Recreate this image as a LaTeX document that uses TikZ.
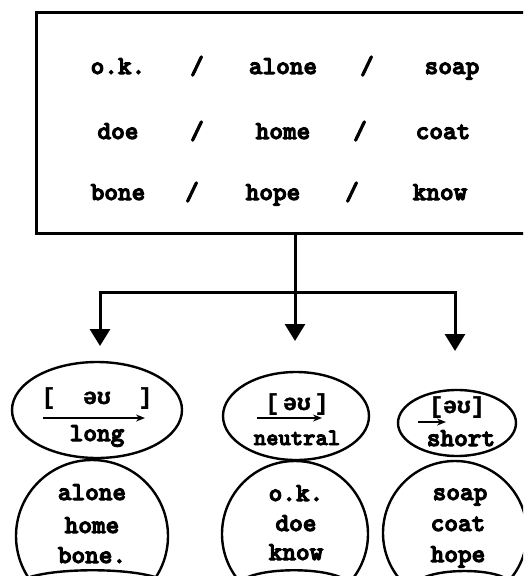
\documentclass[tikz,border=0pt]{standalone}
\usepackage{fontspec}
\newfontfamily\typewriter{lmmonolt10-bold}[Extension=.otf, FakeBold=4]
\newfontfamily\ipafont{Liberation Mono Bold}[FakeBold=1.5]
\usetikzlibrary{shapes.geometric,arrows.meta}

\begin{document}
\begin{tikzpicture}[
        x=1pt, y=-1pt,
        word/.style={
            font=\typewriter\fontsize{26}{28}\selectfont,
            anchor=base,
            inner sep=0pt
        },
        ipa/.style={
            word,
            font=\ipafont\fontsize{23}{26}\selectfont
        },
        listbox/.style={
            rectangle,
            draw=black,
            line width=3pt,
            inner sep=0pt
        },
        sound/.style={
            ellipse,
            draw=black,
            line width=2.4pt,
            inner sep=0pt
        },
        wordring/.style={
            circle,
            draw=black,
            line width=2.4pt,
            inner sep=0pt
        },
        feed/.style={
            line width=3pt,
            -{Triangle[width=20pt,length=17pt]}
        },
        glide/.style={
            line width=1.8pt,
            -{Stealth[width=7pt,length=9pt]}
        }
    ]

        \useasboundingbox (0,0) rectangle (523,576);
        \fill[white] (0,0) rectangle (523,576);
        \clip (0,0) rectangle (523,576);

        % the word list
        \node[listbox, minimum width=504pt, minimum height=221pt] (wordlist) at (288,122.5) {};

        \node[word] (okay) at (118,74) {o.k.};
        \node[word] (s11) at (197,74) {/};
        \node[word] (alone) at (283,74) {alone};
        \node[word] (s12) at (367,74) {/};
        \node[word] (soap) at (452,74) {soap};

        \node[word] (doe) at (118,139) {doe};
        \node[word] (s21) at (197,139) {/};
        \node[word] (home) at (283,139) {home};
        \node[word] (s22) at (360,139) {/};
        \node[word] (coat) at (443,139) {coat};

        \node[word] (bone) at (118,200) {bone};
        \node[word] (s31) at (192,200) {/};
        \node[word] (hope) at (273,200) {hope};
        \node[word] (s32) at (352,200) {/};
        \node[word] (know) at (440,200) {know};

        % branching
        \coordinate (split) at (295,292);
        \coordinate (branchL) at (100,292);
        \coordinate (branchR) at (455,292);
        \coordinate (tipL) at (100,346);
        \coordinate (tipM) at (295,341);
        \coordinate (tipR) at (455,351);

        \draw[line width=3pt] (wordlist.south -| split) -- (split);
        \draw[line width=3pt] ([xshift=-1.5pt]branchL) -- ([xshift=1.5pt]branchR);
        \draw[feed] (branchL) -- (tipL);
        \draw[feed] (split) -- (tipM);
        \draw[feed] (branchR) -- (tipR);

        % the three kinds of glide
        \node[sound, minimum width=170pt, minimum height=96pt] (longsound) at (97,410) {};
        \node[sound, minimum width=146pt, minimum height=88pt] (neutralsound) at (296,416) {};
        \node[sound, minimum width=118pt, minimum height=66pt] (shortsound) at (457,423) {};

        \node[ipa] (longipa) at (97,404) {[\ \ əʊ\ \ ]};
        \node[ipa] (neutralipa) at (297,410) {[\,əʊ\,]};
        \node[ipa] (shortipa) at (457,413) {[əʊ]};

        \coordinate (longfrom) at (43,418);
        \coordinate (longto) at (145,418);
        \coordinate (neutralfrom) at (257,418);
        \coordinate (neutralto) at (322,418);
        \coordinate (shortfrom) at (418,422);
        \coordinate (shortto) at (446,422);
        \draw[glide] (longfrom) -- (longto);
        \draw[glide] (neutralfrom) -- (neutralto);
        \draw[glide] (shortfrom) -- (shortto);

        \node[word] (longname) at (97,441) {long};
        \node[word, font=\typewriter\fontsize{23.5}{26}\selectfont] (neutralname) at (297,445) {neutral};
        \node[word] (shortname) at (461,446) {short};

        % the words sorted
        \node[wordring, minimum size=152pt] (longring) at (92,536) {};
        \node[wordring, minimum size=146pt] (neutralring) at (295,534) {};
        \node[wordring, minimum size=144pt] (shortring) at (455,533) {};

        \node[word] (longa) at (92,500) {alone};
        \node[word] (longb) at (92,533) {home};
        \node[word] (longc) at (92,563) {bone.};

        \node[word] (neutrala) at (296,501) {o.k.};
        \node[word] (neutralb) at (296,531) {doe};
        \node[word] (neutralc) at (296,560) {know};

        \node[word] (shorta) at (460,500) {soap};
        \node[word] (shortb) at (458,531) {coat};
        \node[word] (shortc) at (458,562) {hope};

        % tops of the shapes below
        \draw[line width=2.4pt] (30,577) .. controls (60,568) and (125,568) .. (155,577);
        \draw[line width=2.4pt] (248,577) .. controls (270,568) and (318,568) .. (340,577);
        \draw[line width=2.4pt] (425,577) .. controls (445,569) and (485,569) .. (503,577);

    \end{tikzpicture}
\end{document}
